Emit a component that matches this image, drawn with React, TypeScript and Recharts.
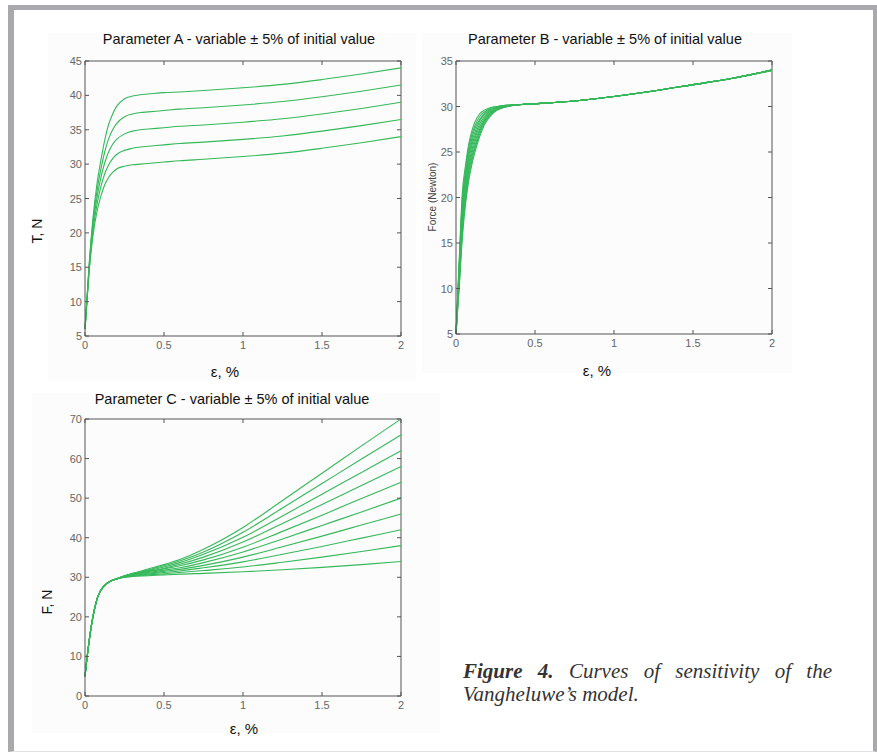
import { LineChart, Line, XAxis, YAxis, ReferenceLine } from 'recharts'

// strain samples (%) and force readings (N) for each sensitivity plot
const strainA = [0, 0.01, 0.025, 0.05, 0.075, 0.1, 0.125, 0.15, 0.175, 0.2, 0.25, 0.3, 0.35, 0.4, 0.5, 0.6, 0.75, 1, 1.25, 1.5, 1.75, 2]
const a1 = [6, 9.2, 14, 19.5, 23, 25.3, 27, 28.1, 28.8, 29.3, 29.7, 29.9, 30.0, 30.1, 30.3, 30.5, 30.7, 31.1, 31.6, 32.3, 33.1, 34.0]
const a2 = [6, 9.3, 14.2, 20.3, 24, 26.7, 28.6, 29.9, 30.8, 31.4, 32.0, 32.3, 32.5, 32.6, 32.8, 33.0, 33.2, 33.6, 34.1, 34.8, 35.6, 36.5]
const a3 = [6, 9.4, 14.5, 21, 25, 28, 30.2, 31.8, 32.9, 33.6, 34.4, 34.8, 35.0, 35.1, 35.3, 35.5, 35.7, 36.1, 36.6, 37.3, 38.1, 39.0]
const a4 = [6, 9.5, 14.8, 21.5, 26, 29.2, 31.8, 33.7, 35.0, 35.9, 36.9, 37.3, 37.5, 37.6, 37.8, 38.0, 38.2, 38.6, 39.1, 39.8, 40.6, 41.5]
const a5 = [6, 9.5, 15, 22, 27, 30.5, 33.5, 35.8, 37.3, 38.4, 39.5, 39.9, 40.1, 40.2, 40.4, 40.5, 40.7, 41.1, 41.6, 42.3, 43.1, 44.0]

const strainB = [0, 0.02, 0.04, 0.06, 0.08, 0.1, 0.12, 0.15, 0.18, 0.22, 0.26, 0.3, 0.4, 0.5, 0.75, 1, 1.25, 1.5, 1.75, 2]
const b1 = [5, 13, 20.5, 23.5, 25.8, 27.3, 28.3, 29.2, 29.6, 29.9, 30.0, 30.1, 30.2, 30.3, 30.6, 31.1, 31.7, 32.4, 33.1, 34.0]
const b2 = [5, 12.7, 19.9, 23.0, 25.4, 26.9, 27.9, 28.9, 29.4, 29.8, 30.0, 30.1, 30.2, 30.3, 30.6, 31.1, 31.7, 32.4, 33.1, 34.0]
const b3 = [5, 12.3, 19.4, 22.5, 24.9, 26.5, 27.6, 28.6, 29.2, 29.7, 29.9, 30.1, 30.2, 30.3, 30.6, 31.1, 31.7, 32.4, 33.1, 34.0]
const b4 = [5, 12.0, 18.8, 22.1, 24.5, 26.1, 27.2, 28.4, 29.1, 29.6, 29.9, 30.0, 30.2, 30.3, 30.6, 31.1, 31.7, 32.4, 33.1, 34.0]
const b5 = [5, 11.7, 18.3, 21.6, 24.0, 25.7, 26.8, 28.1, 28.9, 29.5, 29.8, 30.0, 30.2, 30.3, 30.6, 31.1, 31.7, 32.4, 33.1, 34.0]
const b6 = [5, 11.3, 17.7, 21.1, 23.6, 25.2, 26.5, 27.8, 28.7, 29.4, 29.8, 30.0, 30.2, 30.3, 30.6, 31.1, 31.7, 32.4, 33.1, 34.0]
const b7 = [5, 11.0, 17.2, 20.6, 23.1, 24.8, 26.1, 27.5, 28.5, 29.3, 29.7, 30.0, 30.2, 30.3, 30.6, 31.1, 31.7, 32.4, 33.1, 34.0]
const b8 = [5, 10.7, 16.6, 20.2, 22.7, 24.4, 25.7, 27.3, 28.4, 29.2, 29.7, 29.9, 30.2, 30.3, 30.6, 31.1, 31.7, 32.4, 33.1, 34.0]
const b9 = [5, 10.3, 16.1, 19.7, 22.2, 24.0, 25.4, 27.0, 28.2, 29.1, 29.6, 29.9, 30.2, 30.3, 30.6, 31.1, 31.7, 32.4, 33.1, 34.0]
const b10 = [5, 10, 15.5, 19.2, 21.8, 23.6, 25.0, 26.7, 28.0, 29.0, 29.6, 29.9, 30.2, 30.3, 30.6, 31.1, 31.7, 32.4, 33.1, 34.0]

const strainC = [0, 0.02, 0.05, 0.08, 0.12, 0.16, 0.2, 0.25, 0.3, 0.4, 0.5, 0.6, 0.75, 1, 1.25, 1.5, 1.75, 2]
const c1 = [5, 12, 20, 25, 27.8, 29, 29.6, 30.0, 30.2, 30.4, 30.6, 30.8, 31.0, 31.4, 31.9, 32.5, 33.2, 34]
const c2 = [5, 12, 20, 25, 27.8, 29, 29.6, 30.0, 30.3, 30.6, 30.9, 31.2, 31.7, 32.6, 33.8, 35.1, 36.5, 38]
const c3 = [5, 12, 20, 25, 27.8, 29, 29.6, 30.1, 30.4, 30.8, 31.2, 31.6, 32.4, 33.9, 35.8, 37.8, 39.9, 42]
const c4 = [5, 12, 20, 25, 27.8, 29, 29.6, 30.1, 30.5, 31.0, 31.5, 32.0, 33.0, 35.1, 37.7, 40.4, 43.2, 46]
const c5 = [5, 12, 20, 25, 27.8, 29, 29.6, 30.2, 30.6, 31.2, 31.8, 32.4, 33.7, 36.4, 39.7, 43.1, 46.5, 50]
const c6 = [5, 12, 20, 25, 27.8, 29, 29.6, 30.2, 30.7, 31.4, 32.1, 32.9, 34.4, 37.6, 41.6, 45.7, 49.9, 54]
const c7 = [5, 12, 20, 25, 27.8, 29, 29.6, 30.3, 30.7, 31.5, 32.3, 33.3, 35.1, 38.9, 43.6, 48.4, 53.2, 58]
const c8 = [5, 12, 20, 25, 27.8, 29, 29.6, 30.3, 30.8, 31.7, 32.6, 33.7, 35.8, 40.1, 45.5, 51.0, 56.5, 62]
const c9 = [5, 12, 20, 25, 27.8, 29, 29.6, 30.4, 30.9, 31.9, 32.9, 34.1, 36.4, 41.4, 47.5, 53.7, 59.9, 66]
const c10 = [5, 12, 20, 25, 27.8, 29, 29.6, 30.4, 31.0, 32.1, 33.2, 34.5, 37.1, 42.6, 49.4, 56.3, 63.2, 70]

const xTicks = [0, 0.5, 1, 1.5, 2]
const yTicksA = [5, 10, 15, 20, 25, 30, 35, 40, 45]
const yTicksB = [5, 10, 15, 20, 25, 30, 35]
const yTicksC = [0, 10, 20, 30, 40, 50, 60, 70]

const captionBold = ['Figure', '4.']
const captionLine1 = ['Curves', 'of', 'sensitivity', 'of', 'the']
const captionLine2 = 'Vangheluwe’s model.'

const GREEN = '#35b85a'
const BOX = '#555'
const SANS = '"Liberation Sans", Arial, sans-serif'
const SERIF = '"Liberation Serif", "Times New Roman", serif'

function toRows(xs: number[], series: Record<string, number[]>) {
  return xs.map((x, i) => {
    const row: Record<string, number> = { x }
    for (const k of Object.keys(series)) row[k] = series[k][i]
    return row
  })
}

const dataA = toRows(strainA, { a1, a2, a3, a4, a5 })
const dataB = toRows(strainB, { b1, b2, b3, b4, b5, b6, b7, b8, b9, b10 })
const dataC = toRows(strainC, { c1, c2, c3, c4, c5, c6, c7, c8, c9, c10 })

// matlab style: ticks point inward on all four sides
const makeXTick = (plotH: number) => (p: any) => (
  <g>
    <line x1={p.x} y1={p.y} x2={p.x} y2={p.y - 4} stroke={BOX} />
    <line x1={p.x} y1={p.y - plotH} x2={p.x} y2={p.y - plotH + 4} stroke={BOX} />
    <text x={p.x} y={p.y + 13} textAnchor="middle" fontSize={11} fill="#666" fontFamily={SANS}>
      {p.payload.value}
    </text>
  </g>
)

const makeYTick = (plotW: number) => (p: any) => (
  <g>
    <line x1={p.x} y1={p.y} x2={p.x + 4} y2={p.y} stroke={BOX} />
    <line x1={p.x + plotW} y1={p.y} x2={p.x + plotW - 4} y2={p.y} stroke={BOX} />
    <text x={p.x - 3} y={p.y + 4} textAnchor="end" fontSize={11} fill="#666" fontFamily={SANS}>
      {p.payload.value}
    </text>
  </g>
)

type PanelProps = {
  data: Record<string, number>[]
  keys: string[]
  left: number
  top: number
  height: number
  yDomain: [number, number]
  yTicks: number[]
}

function Panel({ data, keys, left, top, height, yDomain, yTicks }: PanelProps) {
  const width = 370
  const margin = { top: 11, right: 14, left: 0, bottom: 0 }
  const plotW = width - 40 - margin.right
  const plotH = height - margin.top - 24
  return (
    <div style={{ position: 'absolute', left, top }}>
      <LineChart width={width} height={height} data={data} margin={margin}>
        <XAxis
          dataKey="x"
          type="number"
          domain={[0, 2]}
          ticks={xTicks}
          height={24}
          tickSize={0}
          tickMargin={0}
          tickLine={false}
          axisLine={{ stroke: BOX }}
          tick={makeXTick(plotH)}
          interval={0}
        />
        <YAxis
          type="number"
          domain={yDomain}
          ticks={yTicks}
          width={40}
          tickSize={0}
          tickMargin={0}
          tickLine={false}
          axisLine={{ stroke: BOX }}
          tick={makeYTick(plotW)}
          interval={0}
        />
        <ReferenceLine y={yDomain[1]} stroke={BOX} />
        <ReferenceLine x={2} stroke={BOX} />
        {keys.map((k) => (
          <Line key={k} type="monotone" dataKey={k} stroke={GREEN} strokeWidth={1.1} dot={false} isAnimationActive={false} />
        ))}
      </LineChart>
    </div>
  )
}

function Txt({ x, y, size, children, rotate, color }: any) {
  return (
    <div
      style={{
        position: 'absolute',
        left: x,
        top: y,
        transform: `translate(-50%, -50%)${rotate ? ' rotate(-90deg)' : ''}`,
        whiteSpace: 'nowrap',
        fontFamily: SANS,
        fontSize: size,
        color: color ?? '#111',
        lineHeight: 1,
      }}
    >
      {children}
    </div>
  )
}

const captionStyle = {
  fontFamily: SERIF,
  fontStyle: 'italic',
  fontSize: 21,
  lineHeight: '23px',
  color: '#333',
} as const

export default function App() {
  return (
    <div style={{ position: 'absolute', left: 0, top: 0, width: 877, height: 753, background: '#fff', overflow: 'hidden' }}>
      <div
        style={{
          position: 'absolute',
          left: 8,
          top: 5,
          width: 869 - 6 - 4,
          height: 747 - 5 - 1,
          borderTop: '5px solid #a9a9ad',
          borderLeft: '6px solid #a9a9ad',
          borderRight: '4px solid #a9a9ad',
          borderBottom: '1px solid #e2e2e2',
        }}
      />
      <div style={{ position: 'absolute', left: 48, top: 33, width: 368, height: 347, background: '#fcfcfc' }} />
      <div style={{ position: 'absolute', left: 422, top: 33, width: 370, height: 340, background: '#fcfcfc' }} />
      <div style={{ position: 'absolute', left: 32, top: 393, width: 408, height: 340, background: '#fcfcfc' }} />

      <Panel data={dataA} keys={['a1', 'a2', 'a3', 'a4', 'a5']} left={45} top={50} height={310} yDomain={[5, 45]} yTicks={yTicksA} />
      <Panel data={dataB} keys={['b1', 'b2', 'b3', 'b4', 'b5', 'b6', 'b7', 'b8', 'b9', 'b10']} left={416} top={50} height={308} yDomain={[5, 35]} yTicks={yTicksB} />
      <Panel data={dataC} keys={['c1', 'c2', 'c3', 'c4', 'c5', 'c6', 'c7', 'c8', 'c9', 'c10']} left={45} top={408} height={312} yDomain={[0, 70]} yTicks={yTicksC} />

      <Txt x={239} y={39} size={14.5}>Parameter A - variable ± 5% of initial value</Txt>
      <Txt x={605} y={39} size={14.5}>Parameter B - variable ± 5% of initial value</Txt>
      <Txt x={232} y={399} size={14.5}>Parameter C - variable ± 5% of initial value</Txt>

      <Txt x={37} y={231} size={14} rotate>T, N</Txt>
      <Txt x={433} y={197} size={10} rotate color="#444">Force (Newton)</Txt>
      <Txt x={47} y={602} size={14} rotate>F, N</Txt>

      <Txt x={225} y={371} size={15}>ε, %</Txt>
      <Txt x={597} y={370} size={15}>ε, %</Txt>
      <Txt x={244} y={728} size={15}>ε, %</Txt>

      <div style={{ ...captionStyle, position: 'absolute', left: 463, top: 660, width: 369, display: 'flex', justifyContent: 'space-between' }}>
        {captionBold.map((w, i) => (
          <b key={'b' + i}>{w}</b>
        ))}
        {captionLine1.map((w, i) => (
          <span key={i}>{w}</span>
        ))}
      </div>
      <div style={{ ...captionStyle, position: 'absolute', left: 463, top: 683 }}>{captionLine2}</div>
    </div>
  )
}
